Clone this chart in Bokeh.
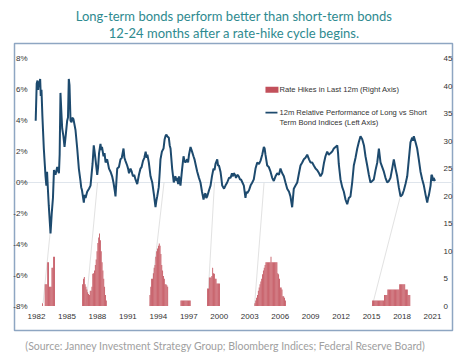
from bokeh.plotting import figure
from bokeh.models import (Range1d, LinearAxis, FixedTicker, PrintfTickFormatter,
                          Label, BoxAnnotation)
from bokeh.layouts import column
from bokeh.embed import file_html
from bokeh.resources import INLINE

# ---------------- data ----------------
perf_year = [1981.92, 1982.02, 1982.10, 1982.16, 1982.22, 1982.30, 1982.36, 1982.42, 1982.49, 1982.58,
             1982.72, 1982.89, 1982.97, 1983.04, 1983.12, 1983.21, 1983.38, 1983.50, 1983.62, 1983.72,
             1983.87, 1984.04, 1984.12, 1984.21, 1984.28, 1984.36, 1984.46, 1984.53, 1984.65, 1984.76,
             1984.90, 1985.02, 1985.10, 1985.18, 1985.25, 1985.35, 1985.45, 1985.52, 1985.64, 1985.84,
             1986.01, 1986.17, 1986.33, 1986.40, 1986.48, 1986.57, 1986.66, 1986.74, 1986.83, 1986.99,
             1987.08, 1987.17, 1987.32, 1987.52, 1987.64, 1987.72, 1987.81, 1987.98, 1988.07, 1988.16,
             1988.30, 1988.38, 1988.45, 1988.60, 1988.70, 1988.80, 1988.96, 1989.14, 1989.29, 1989.45,
             1989.58, 1989.70, 1989.78, 1989.88, 1989.95, 1990.12, 1990.27, 1990.40, 1990.57, 1990.66,
             1990.76, 1990.93, 1991.02, 1991.11, 1991.26, 1991.38, 1991.50, 1991.62, 1991.75, 1991.92,
             1992.09, 1992.24, 1992.35, 1992.49, 1992.62, 1992.75, 1992.85, 1992.92, 1993.06, 1993.23,
             1993.40, 1993.57, 1993.72, 1993.80, 1993.89, 1994.04, 1994.13, 1994.21, 1994.35, 1994.51,
             1994.62, 1994.70, 1994.80, 1994.87, 1995.03, 1995.12, 1995.20, 1995.36, 1995.52, 1995.60,
             1995.69, 1995.78, 1995.86, 1995.95, 1996.03, 1996.18, 1996.33, 1996.48, 1996.58, 1996.67,
             1996.84, 1996.93, 1997.02, 1997.17, 1997.32, 1997.46, 1997.56, 1997.66, 1997.83, 1998.00,
             1998.15, 1998.30, 1998.45, 1998.55, 1998.64, 1998.72, 1998.81, 1998.99, 1999.14, 1999.28,
             1999.43, 1999.53, 1999.63, 1999.80, 1999.88, 1999.97, 2000.12, 2000.20, 2000.29, 2000.47,
             2000.61, 2000.78, 2000.96, 2001.11, 2001.25, 2001.35, 2001.43, 2001.55, 2001.65, 2001.78,
             2001.92, 2002.04, 2002.14, 2002.28, 2002.42, 2002.58, 2002.66, 2002.75, 2002.93, 2003.08,
             2003.25, 2003.40, 2003.57, 2003.74, 2003.91, 2004.06, 2004.23, 2004.39, 2004.47, 2004.55,
             2004.72, 2004.88, 2005.05, 2005.21, 2005.37, 2005.54, 2005.71, 2005.88, 2006.03, 2006.20,
             2006.36, 2006.52, 2006.69, 2006.87, 2007.01, 2007.18, 2007.26, 2007.34, 2007.51, 2007.68,
             2007.85, 2008.00, 2008.17, 2008.33, 2008.49, 2008.66, 2008.84, 2008.98, 2009.15, 2009.31,
             2009.48, 2009.65, 2009.83, 2009.97, 2010.14, 2010.32, 2010.46, 2010.63, 2010.79, 2010.95,
             2011.12, 2011.28, 2011.45, 2011.62, 2011.70, 2011.77, 2011.94, 2012.11, 2012.27, 2012.43,
             2012.60, 2012.76, 2012.92, 2013.09, 2013.25, 2013.42, 2013.59, 2013.74, 2013.91, 2014.08,
             2014.25, 2014.40, 2014.57, 2014.73, 2014.89, 2015.06, 2015.22, 2015.39, 2015.56, 2015.72,
             2015.88, 2016.05, 2016.21, 2016.37, 2016.54, 2016.70, 2016.86, 2017.03, 2017.19, 2017.36,
             2017.52, 2017.68, 2017.85, 2018.02, 2018.18, 2018.34, 2018.51, 2018.67, 2018.83, 2019.00,
             2019.08, 2019.16, 2019.33, 2019.49, 2019.65, 2019.82, 2019.99, 2020.15, 2020.32, 2020.48,
             2020.56, 2020.65, 2020.81, 2020.90, 2020.98, 2021.05, 2021.11, 2021.25]
perf_value = [4.0, 6.4, 6.6, 6.0, 6.5, 6.4, 6.7, 5.6, 6.0, 4.3,
              2.2, 0.4, -0.2, 0.7, -0.4, -1.5, -3.3, -2.0, -1.0, 0.8,
              0.5, 1.0, 0.8, 0.6, 1.8, 5.8, 4.4, 3.5, 3.0, 2.3,
              3.2, 4.0, 4.2, 6.7, 6.3, 4.0, 3.9, 4.2, 4.1, 3.4,
              2.2, 0.9, 0.1, -0.3, -0.5, -0.9, -1.3, -0.8, -1.0, -0.6,
              -0.5, -0.4, -0.2, 1.2, 2.4, 2.0, 1.5, 0.5, 1.0, 1.9,
              2.5, 2.1, 2.3, 1.7, 1.9, 1.3, 1.5, 0.9, 0.7, 0.4,
              0.0, -0.5, -0.9, 0.2, 0.9, 1.0, 1.5, 1.6, 2.2, 1.6,
              1.4, 1.1, 0.9, 0.6, 0.9, 0.7, 0.4, 0.5, 0.2, -0.1,
              0.5, 0.9, 1.0, 1.4, 1.6, 2.0, 1.6, 1.8, 1.3, 0.4,
              0.0, -0.8, -1.6, -1.2, -0.9, -0.3, 0.6, 1.5, 2.0, 2.2,
              2.8, 3.0, 3.1, 3.0, 2.9, 2.4, 2.2, 0.9, 0.0, 0.3,
              0.4, 0.1, 0.3, -0.1, 0.4, -0.2, 0.8, 1.7, 1.4, 1.3,
              1.5, 1.3, 1.8, 2.3, 2.0, 1.7, 1.5, 1.2, 0.7, 0.3,
              0.0, -0.6, -1.1, -0.8, -0.7, -1.0, -0.9, -0.5, -0.2, 0.4,
              0.9, 0.8, 1.2, 1.5, 1.1, 1.1, 0.7, 0.3, -0.2, -0.4,
              -0.2, 0.0, 0.3, 0.3, 0.6, 0.4, 0.6, 0.5, 0.3, 0.5,
              0.4, 0.2, 0.2, 0.0, -0.2, -1.0, -0.6, -0.7, -0.5, -0.2,
              0.0, 0.2, 0.9, 1.3, 1.2, 1.4, 1.8, 2.3, 2.2, 1.8,
              1.1, 1.0, 0.7, 0.3, 0.1, 0.4, 0.6, 0.5, 0.9, 0.6,
              0.4, 0.0, -0.4, -0.6, -0.9, -1.6, -1.0, -0.4, -0.2, 0.0,
              0.6, 1.1, 1.3, 1.5, 1.6, 1.8, 1.5, 1.3, 1.3, 1.1,
              0.9, 0.8, 0.6, 0.4, 0.6, 1.3, 1.7, 2.0, 1.8, 1.9,
              2.0, 2.2, 2.3, 2.4, 1.9, 1.2, 0.2, -0.3, -0.6, -1.1,
              -1.4, -1.0, -0.9, 0.0, 1.1, 1.6, 2.2, 2.6, 3.0, 2.8,
              2.4, 1.7, 1.1, 0.5, 0.0, 0.1, 0.2, 0.8, 1.3, 2.2,
              1.3, 1.0, 0.7, 0.3, 0.0, 0.1, 0.3, 0.9, 1.5, 0.9,
              0.4, -0.3, -0.9, -0.8, -0.5, -0.1, 0.4, 1.5, 2.6, 2.9,
              2.7, 3.0, 2.6, 2.2, 1.5, 0.7, 0.2, -0.2, -0.8, -1.3,
              -1.0, -0.8, -0.2, 0.5, 0.4, 0.1, 0.3, 0.1]

# Rate hikes in last 12 months (right axis), monthly bars per hiking cycle
hike_cycle_start = [1982.56, 1986.50, 1993.13, 1996.18, 1998.81, 2003.47, 2015.06]
hikes_1983 = [0.5, 0, 0, 4, 4, 4, 8, 8, 3.5, 3.5, 3.5, 7, 7, 9, 9]
hikes_1987 = [4, 5, 5.3, 4, 3.5, 3, 2.5, 2.2, 2, 2.8, 2.8, 3.5, 5.9, 6, 6.5, 7.5, 8.5, 10,
              11.5, 12.5, 13.2, 12, 10, 8, 6.5, 5, 3.5, 2, 1]
hikes_1994 = [2, 3.5, 5, 5, 6, 7, 7.5, 9, 10, 10.5, 11, 11.4, 11, 9.5, 7.5, 6.5, 5.5, 5, 4, 4, 3.8, 3.5]
hikes_1997 = [1, 1, 1, 1, 1, 1, 1, 1, 1, 1, 1, 1]
hikes_1999 = [3.2, 3.2, 5.2, 5.2, 5.2, 5.5, 7, 6, 5.9, 5, 5, 4.1, 4.1, 4.1, 4.1]
hikes_2004 = [0.5, 1, 1.5, 2, 2.8, 3.4, 4, 4.5, 5, 5.8, 6.5, 7, 7.5, 8, 8, 8, 8, 8, 8, 9,
              8, 8, 8, 8, 8, 8, 8, 6, 5.8, 5, 3.4, 3.4, 3, 1.8, 1.8, 1.5, 1]
hikes_2016 = [1] * 14 + [2] * 4 + [3] * 14 + [4] * 7 + [3] * 3 + [2] * 3
hike_cycles = [hikes_1983, hikes_1987, hikes_1994, hikes_1997, hikes_1999, hikes_2004, hikes_2016]

# faint connector lines: cycle start -> relative performance 12-24 months later
conn_x0 = [1982.65, 1986.88, 1993.18, 1998.84, 2003.47, 2015.06]
conn_y0 = [-7.8, -8.0, -8.0, -8.0, -8.0, -8.0]
conn_x1 = [1983.35, 1988.01, 1994.56, 1999.53, 2004.41, 2017.95]
conn_y1 = [-3.2, 0.0, 0.0, 0.0, 0.0, -0.6]

year_ticks = [1982, 1985, 1988, 1991, 1994, 1997, 2000, 2003, 2006, 2009, 2012, 2015, 2018, 2021]
left_ticks = [-8, -6, -4, -2, 0, 2, 4, 6, 8]
right_ticks = [0, 5, 10, 15, 20, 25, 30, 35, 40, 45]

title_lines = ["Long-term bonds perform better than short-term bonds",
               "12-24 months after a rate-hike cycle begins."]
source_text = "(Source: Janney Investment Strategy Group; Bloomberg Indices; Federal Reserve Board)"
legend_bar = "Rate Hikes in Last 12m (Right Axis)"
legend_line = [" 12m Relative Performance of Long vs Short", "Term Bond Indices (Left Axis)"]

# ---------------- styles ----------------
LINE_C = "#1d4a6e"
BAR_C = "#c2505b"
TXT_C = "#333333"
TITLE_C = "#2e8a8f"
TICK_FONT = "Liberation Sans"
W = 463


def blank(h, y_top):
    f = figure(width=W, height=h, output_backend="svg", toolbar_location=None,
               x_range=Range1d(0, W), y_range=Range1d(y_top + h, y_top),
               min_border=0, min_border_left=0, min_border_right=0,
               min_border_top=0, min_border_bottom=0)
    f.axis.visible = False
    f.grid.visible = False
    f.outline_line_color = None
    return f


# ---- title strip (page y 0..41) ----
pt = blank(41, 0)
for txt, yy in zip(title_lines, [15.5, 32.5]):
    pt.add_layout(Label(x=232, y=yy, text=txt, text_font="Lato", text_font_size="13px",
                        text_color=TITLE_C, text_align="center", text_baseline="alphabetic"))

# ---- main chart (page y 41..332), frame = bordered box ----
bar_x, bar_h = [], []
for start, vals in zip(hike_cycle_start, hike_cycles):
    for k, v in enumerate(vals):
        bar_x.append(start + (k + 0.5) / 12.0)
        bar_h.append(v)

p = figure(width=W, height=291, output_backend="svg", toolbar_location=None,
           x_range=Range1d(1979.833, 2022.970), y_range=Range1d(-9.579, 8.997),
           min_border_left=14, min_border_right=11, min_border_top=2, min_border_bottom=2)
p.outline_line_color = "#8ea6c2"
p.outline_line_width = 1.5
p.extra_y_ranges = {"hikes": Range1d(-4.441, 47.80)}

p.yaxis.ticker = FixedTicker(ticks=left_ticks)
p.yaxis.formatter = PrintfTickFormatter(format="%d%%")
p.xaxis.ticker = FixedTicker(ticks=year_ticks)
p.xaxis.formatter = PrintfTickFormatter(format="%d")
ax_r = LinearAxis(y_range_name="hikes", ticker=FixedTicker(ticks=right_ticks))
p.add_layout(ax_r, "right")
for ax in [p.xaxis[0], p.yaxis[0], ax_r]:
    ax.axis_line_color = None
    ax.major_tick_line_color = None
    ax.minor_tick_line_color = None
    ax.major_tick_out = 0
    ax.major_tick_in = 0
    ax.minor_tick_out = 0
    ax.minor_tick_in = 0
    ax.major_label_text_font = TICK_FONT
    ax.major_label_text_font_size = "8px"
    ax.major_label_text_color = TXT_C
p.yaxis.major_label_standoff = -13
ax_r.major_label_standoff = -9
p.xaxis.major_label_standoff = -17

p.xgrid.grid_line_color = None
p.ygrid.ticker = FixedTicker(ticks=[0])
p.ygrid.grid_line_color = "#dfe5ec"
p.ygrid.grid_line_width = 1

p.segment(x0=conn_x0, y0=conn_y0, x1=conn_x1, y1=conn_y1, line_color="#e2e2e2", line_width=1)
p.vbar(x=bar_x, top=bar_h, bottom=0, width=1 / 12.0, y_range_name="hikes",
       fill_color=BAR_C, line_color=None)
p.line(perf_year, perf_value, line_color=LINE_C, line_width=2)

# legend
p.add_layout(BoxAnnotation(left=2004.55, right=2005.83, bottom=5.81, top=6.19,
                           fill_color=BAR_C, fill_alpha=1, line_color=None))
p.add_layout(BoxAnnotation(left=2004.55, right=2005.73, bottom=4.46, top=4.58,
                           fill_color=LINE_C, fill_alpha=1, line_color=None))
for txt, yy in [(legend_bar, 6.0), (legend_line[0], 4.52), (legend_line[1], 3.89)]:
    p.add_layout(Label(x=2005.93, y=yy, text=txt, text_font=TICK_FONT,
                       text_font_size="7.6px", text_color=TXT_C, text_baseline="middle"))

# ---- source strip (page y 332..358) ----
ps = blank(26, 332)
ps.add_layout(Label(x=223, y=345, text=source_text, text_font="Lato",
                    text_font_size="10.5px", text_color="#a0a0a0", text_align="center",
                    text_baseline="alphabetic"))

layout = column(pt, p, ps, spacing=0)
open("out.html", "w").write(file_html(layout, INLINE))
